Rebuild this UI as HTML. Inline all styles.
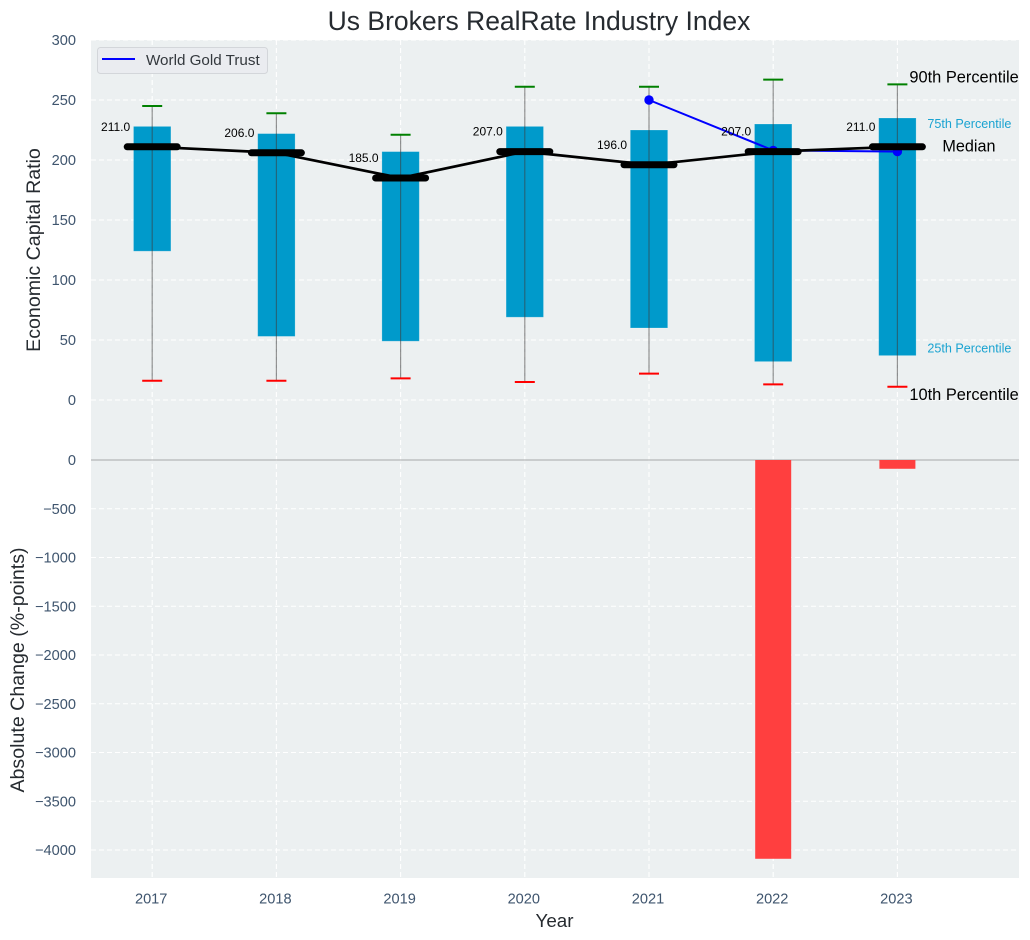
<!DOCTYPE html>
<html lang="en">
<head>
<meta charset="utf-8">
<title>Us Brokers RealRate Industry Index</title>
<style>
html,body{margin:0;padding:0;background:#fff;width:1030px;height:940px;overflow:hidden}
svg{display:block;font-family:"Liberation Sans",Arial,sans-serif}
</style>
</head>
<body>
<svg id="chart" xmlns="http://www.w3.org/2000/svg" width="1030" height="940" viewBox="0 0 1030 940">
<rect x="0" y="0" width="1030" height="940" fill="#ffffff"/>
<rect x="91" y="40" width="928" height="838" fill="#ecf0f1"/>
<g id="grid"></g>
<g id="marks"></g>
<g id="ticks"></g>
<text x="539" y="30" font-size="26.5" fill="#262b30" text-anchor="middle">Us Brokers RealRate Industry Index</text>
<text transform="translate(40,250) rotate(-90)" font-size="19.6" fill="#262b30" text-anchor="middle">Economic Capital Ratio</text>
<text transform="translate(24,670) rotate(-90)" font-size="19.6" fill="#262b30" text-anchor="middle">Absolute Change (%-points)</text>
<text x="554.5" y="927" font-size="18.8" fill="#262b30" text-anchor="middle">Year</text>
<g>
<rect x="97.5" y="47.5" width="170" height="26" rx="3" fill="#eaecf0" stroke="#d3d6da" stroke-width="1"/>
<line x1="102" y1="59" x2="135" y2="59" stroke="#0000ff" stroke-width="2"/>
<text x="146" y="65" font-size="15.2" fill="#33383d">World Gold Trust</text>
</g>
</svg>
<script>
const years = [2017, 2018, 2019, 2020, 2021, 2022, 2023];
const p90 = [245, 239, 221, 261, 261, 267, 263];
const p75 = [228, 222, 207, 228, 225, 230, 235];
const median = [211, 206, 185, 207, 196, 207, 211];
const p25 = [124, 53, 49, 69, 60, 32, 37];
const p10 = [16, 16, 18, 15, 22, 13, 11];
const goldYears = [2021, 2022, 2023];
const goldValues = [250, 208, 207];
const changeYears = [2022, 2023];
const changeValues = [-4090, -90];
const topTicks = [0, 50, 100, 150, 200, 250, 300];
const bottomTicks = [0, -500, -1000, -1500, -2000, -2500, -3000, -3500, -4000];

const NS = 'http://www.w3.org/2000/svg';
const xScale = function (yr) { return 152.2 + (yr - 2017) * 124.2; };
const yTop = function (v) { return 400 - v * 1.2; };
const yBottom = function (v) { return 460 - v * 0.0975; };
const gridG = document.getElementById('grid');
const marksG = document.getElementById('marks');
const ticksG = document.getElementById('ticks');

function mk(tag, parent, attrs, txt) {
  const el = document.createElementNS(NS, tag);
  for (const k in attrs) el.setAttribute(k, attrs[k]);
  if (txt !== undefined) el.textContent = txt;
  parent.appendChild(el);
  return el;
}
const gridStyle = { stroke: '#ffffff', 'stroke-width': 1.1, 'stroke-dasharray': '5 3', fill: 'none' };
const tickColor = '#3f556e';

topTicks.forEach(function (t) {
  const gl = mk('line', gridG, Object.assign({ x1: 91, x2: 1019, y1: yTop(t), y2: yTop(t) }, gridStyle));
  
  
  const tl = mk('text', ticksG, { x: 76, y: yTop(t) + 5, 'font-size': 14.6, fill: tickColor, 'text-anchor': 'end' }, String(t));
  
  
});
bottomTicks.forEach(function (t) {
  if (t !== 0) {
    const gl = mk('line', gridG, Object.assign({ x1: 91, x2: 1019, y1: yBottom(t), y2: yBottom(t) }, gridStyle));
    
    
  }
  const label = t < 0 ? '\u2212' + Math.abs(t) : String(t);
  const tl = mk('text', ticksG, { x: 76, y: yBottom(t) + 5, 'font-size': 14.6, fill: tickColor, 'text-anchor': 'end' }, label);
  
  
});
years.forEach(function (yr) {
  const gl = mk('line', gridG, Object.assign({ x1: xScale(yr), x2: xScale(yr), y1: 40, y2: 878 }, gridStyle));
  
  
  const tl = mk('text', ticksG, { x: xScale(yr) - 1, y: 903.5, 'font-size': 14.6, fill: tickColor, 'text-anchor': 'middle' }, String(yr));
  
  
});

const zeroLine = mk('line', marksG, { x1: 91, x2: 1019, y1: 460, y2: 460, stroke: '#b4b6b8', 'stroke-width': 1.2 });



years.forEach(function (yr, i) {
  const cx = xScale(yr);
  const box = mk('rect', marksG, { x: cx - 18.7, y: yTop(p75[i]), width: 37.4, height: yTop(p25[i]) - yTop(p75[i]), fill: '#009acb', stroke: '#ffffff', 'stroke-opacity': 0.25, 'stroke-width': 0.8 });
  
  
  const whisker = mk('line', marksG, { x1: cx, x2: cx, y1: yTop(p90[i]), y2: yTop(p10[i]), stroke: '#3c3c3c', 'stroke-opacity': 0.55, 'stroke-width': 1.2 });
  
  
  const capHigh = mk('line', marksG, { x1: cx - 10, x2: cx + 10, y1: yTop(p90[i]), y2: yTop(p90[i]), stroke: '#008000', 'stroke-width': 2 });
  
  
  const capLow = mk('line', marksG, { x1: cx - 10, x2: cx + 10, y1: yTop(p10[i]), y2: yTop(p10[i]), stroke: '#ff0000', 'stroke-width': 2 });
  
  
});

changeYears.forEach(function (yr, i) {
  const cx = xScale(yr);
  const bar = mk('rect', marksG, { x: cx - 18, y: yBottom(0), width: 36, height: yBottom(changeValues[i]) - yBottom(0), fill: '#ff3f3f' });
  
  
});

const goldPts = goldYears.map(function (yr, i) { return xScale(yr) + ',' + yTop(goldValues[i]); }).join(' ');
const goldLine = mk('polyline', marksG, { points: goldPts, fill: 'none', stroke: '#0000ff', 'stroke-width': 2 });


goldYears.forEach(function (yr, i) {
  const pt = mk('circle', marksG, { cx: xScale(yr), cy: yTop(goldValues[i]), r: 4.7, fill: '#0000ff' });
  
  
});

const medPts = years.map(function (yr, i) { return xScale(yr) + ',' + yTop(median[i]); }).join(' ');
const medLine = mk('polyline', marksG, { points: medPts, fill: 'none', stroke: '#000000', 'stroke-width': 2.7 });


years.forEach(function (yr, i) {
  const cx = xScale(yr);
  const seg = mk('line', marksG, { x1: cx - 25, x2: cx + 25, y1: yTop(median[i]), y2: yTop(median[i]), stroke: '#000000', 'stroke-width': 7, 'stroke-linecap': 'round' });
  
  
  const lbl = mk('text', marksG, { x: cx - 22, y: yTop(median[i]) - 16, 'font-size': 12, fill: '#000000', 'text-anchor': 'end' }, median[i].toFixed(1));
  
  
});

const last = years.length - 1;
const lastX = xScale(years[last]);
const t90 = mk('text', marksG, { x: lastX + 12, y: yTop(p90[last]) - 2, 'font-size': 16.4, fill: '#000000' }, '90th Percentile');


const t75 = mk('text', marksG, { x: lastX + 30, y: yTop(p75[last]) + 10, 'font-size': 12.6, fill: '#1aa3d1' }, '75th Percentile');


const tMed = mk('text', marksG, { x: lastX + 45, y: yTop(median[last]) + 4.5, 'font-size': 16.2, fill: '#000000' }, 'Median');


const t25 = mk('text', marksG, { x: lastX + 30, y: yTop(p25[last]) - 3, 'font-size': 12.6, fill: '#1aa3d1' }, '25th Percentile');


const t10 = mk('text', marksG, { x: lastX + 12, y: yTop(p10[last]) + 13, 'font-size': 16.4, fill: '#000000' }, '10th Percentile');


</script>
</body>
</html>
